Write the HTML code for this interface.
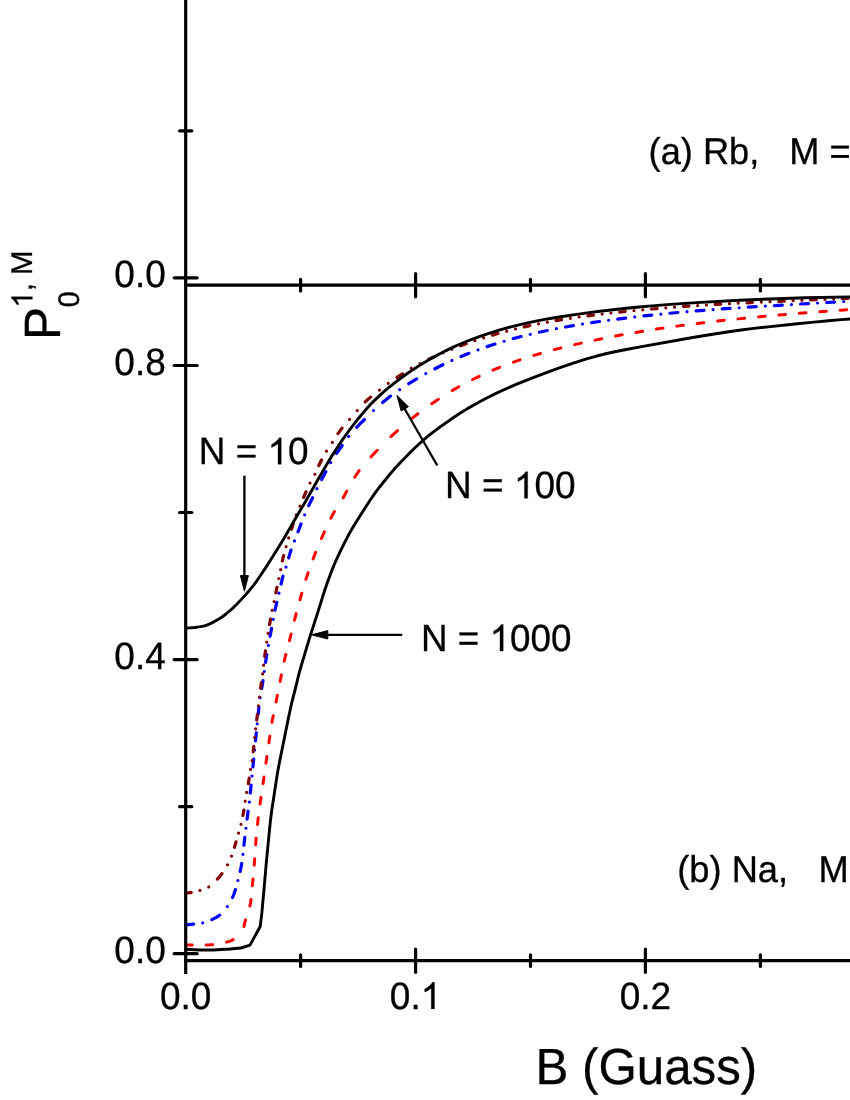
<!DOCTYPE html>
<html><head><meta charset="utf-8"><title>Chart</title>
<style>
html,body{margin:0;padding:0;background:#fff;}
body{width:850px;height:1100px;overflow:hidden;position:relative;font-family:"Liberation Sans",sans-serif;}
</style></head><body>
<svg width="850" height="1100" viewBox="0 0 850 1100" style="position:absolute;left:0;top:0;display:block;will-change:transform">
<rect width="850" height="1100" fill="#fff"/>
<g fill="none" stroke-width="3.20" stroke-linejoin="round" stroke-linecap="round">
<path d="M185.70 949.20L200.00 950.00L213.00 950.00L230.00 949.00L241.00 948.00L250.00 945.10L260.20 926.50L261.90 912.50L263.93 890.17L266.45 861.13L269.59 828.89L270.64 819.03L271.83 809.89L276.43 779.74L277.69 771.80L278.79 765.67L287.75 721.40L290.67 707.48L292.21 700.86L294.93 690.28L299.14 673.21L301.56 664.57L309.74 637.45L317.44 613.55L323.87 592.81L328.01 580.70L331.74 570.65L335.04 562.69L339.09 553.90L344.91 541.98L347.71 536.56L350.29 531.77L353.10 526.98L362.29 512.23L369.90 500.53L375.36 492.58L379.61 486.97L388.82 475.48L394.24 469.11L401.89 460.96L408.73 453.91L415.82 447.02L420.09 443.04L423.44 440.04L426.54 437.42L430.24 434.43L434.80 430.89L440.00 427.02L450.53 419.56L458.81 414.00L467.46 408.63L476.00 403.71L485.78 398.49L496.00 393.39L506.12 388.73L517.41 383.90L530.59 378.60L547.06 372.30L561.45 367.08L574.79 362.57L587.39 358.67L596.85 356.03L605.75 353.78L614.75 351.77L625.00 349.72L640.25 346.92L692.75 337.55L709.50 334.74L728.75 331.74L741.00 330.00L753.75 328.42L768.25 326.82L797.25 323.77L814.00 322.09L828.50 320.74L841.28 319.67L853.00 318.83" stroke="#000" stroke-linecap="butt" stroke-width="2.9"/>
<path d="M185.70 945.10L192.30 945.07M206.12 944.93L209.85 944.83L212.72 944.63M226.54 942.10L228.76 941.50L230.38 940.97L231.74 940.41L233.14 939.66M243.95 926.49L244.87 922.25L245.56 919.89M249.96 906.07L250.51 902.97L250.98 899.47M252.34 885.65L253.00 879.05M254.24 865.23L254.73 858.63M255.63 844.81L256.15 838.21M257.51 824.39L258.26 817.79M260.05 803.97L260.98 797.37M263.07 783.55L264.04 776.95M265.96 763.13L266.89 756.53M268.89 742.71L269.87 736.11M272.01 722.29L273.20 715.69M276.02 701.87L277.35 695.27M280.11 681.45L281.38 674.85M284.22 661.03L285.85 654.43M289.45 640.61L291.07 634.01M294.44 620.19L296.16 613.59M299.93 599.77L301.81 593.17M305.91 579.35L308.10 572.75M313.11 558.93L315.65 552.33M321.43 538.51L324.39 531.91M330.88 518.09L332.78 514.40L334.42 511.49M343.19 497.67L344.80 494.76L346.70 491.07M354.73 477.25L357.11 473.60L359.15 470.65M371.15 456.83L374.27 453.37L377.26 450.23M390.92 436.52L397.52 430.58M411.34 418.91L417.94 413.73M431.76 403.67L438.36 399.22M452.18 390.61L458.78 386.82M472.60 379.50L479.20 376.28M493.02 370.09L499.62 367.37M513.44 362.14L520.04 359.84M533.86 355.41L540.46 353.45M554.28 349.65L560.88 347.96M574.70 344.63L581.30 343.13M595.12 340.13L601.72 338.77M615.54 336.06L622.14 334.84M635.96 332.40L642.56 331.29M656.38 329.10L662.98 328.11M676.80 326.13L683.40 325.24M697.22 323.46L703.82 322.65M717.64 321.05L724.24 320.32M738.06 318.87L744.66 318.21M758.48 316.88L765.08 316.27M778.90 315.05L785.50 314.48M799.32 313.34L805.92 312.81M819.74 311.72L826.34 311.21M840.16 310.16L846.76 309.66" stroke="#ff0000" stroke-width="3"/>
<path d="M185.70 924.80L193.60 924.21M202.71 922.78h0.01M211.82 919.65L216.27 917.35L219.72 915.22M227.37 906.60h0.01M232.56 897.49L233.99 893.99L235.45 889.59M237.88 880.48h0.01M240.16 871.37L241.00 867.49L241.73 863.47M242.94 854.36h0.01M243.92 845.25L244.82 837.35M245.97 828.24h0.01M247.10 819.13L248.10 811.23M249.39 802.12h0.01M250.32 793.01L251.09 785.11M252.00 776.00h0.01M252.91 766.89L253.70 758.99M254.61 749.88h0.01M255.52 740.77L256.31 732.87M257.22 723.76h0.01M258.12 714.65L258.95 706.75M260.05 697.64h0.01M261.73 688.53L263.00 680.63M264.25 671.52h0.01M265.54 662.41L266.79 654.51M268.35 645.40h0.01M270.03 636.29L271.55 628.39M273.22 619.28h0.01M274.96 610.17L276.77 602.27M278.96 593.16h0.01M281.03 584.05L282.96 576.15M285.99 567.04h0.01M288.70 557.93L289.97 553.35L290.99 550.03M294.45 540.92h0.01M297.99 531.81L301.04 523.91M304.66 514.80h0.01M308.74 505.69L312.48 497.79M316.91 488.68h0.01M321.70 479.57L325.81 471.67M330.68 462.56h0.01M336.69 453.45L342.14 445.55M348.66 436.44h0.01M356.69 427.33L359.49 424.44L364.50 419.50M373.53 410.50h0.01M382.64 402.46L390.54 396.12M399.65 389.68h0.01M408.76 383.71L416.66 378.85M425.77 373.60h0.01M434.88 368.71L442.78 364.74M451.89 360.47h0.01M461.00 356.50L468.90 353.29M478.01 349.84h0.01M487.12 346.63L495.02 344.03M504.13 341.23h0.01M513.24 338.64L521.14 336.54M530.25 334.28h0.01M539.36 332.19L547.26 330.50M556.37 328.68h0.01M565.48 326.98L573.38 325.60M582.49 324.10h0.01M591.60 322.70L599.50 321.54M608.61 320.26h0.01M617.72 319.06L625.62 318.06M634.73 316.97h0.01M643.84 315.93L651.74 315.08M660.85 314.14h0.01M669.96 313.25L677.86 312.51M686.97 311.70h0.01M696.08 310.94L703.98 310.30M713.09 309.60h0.01M722.20 308.93L730.10 308.37M739.21 307.74h0.01M748.32 307.15L756.22 306.64M765.33 306.08h0.01M774.44 305.53L782.34 305.06M791.45 304.53h0.01M800.56 304.00L808.46 303.55M817.57 303.02h0.01M826.68 302.49L834.58 302.03M843.69 301.49h0.01M852.80 300.93L853.00 300.92" stroke="#0000ff"/>
<path d="M185.70 893.00L191.20 892.57M199.97 890.44h0.01M208.75 886.90h0.01M217.45 879.14L219.73 876.57L221.94 873.64M227.51 864.86h0.01M231.55 856.09h0.01M234.47 847.32L236.05 841.82M238.56 833.04h0.01M241.03 824.27h0.01M242.93 815.50L243.94 810.00M245.23 801.22h0.01M246.70 792.45h0.01M248.31 783.68L249.19 778.18M250.50 769.40h0.01M252.14 760.63h0.01M253.20 751.86L253.78 746.36M254.64 737.58h0.01M255.62 728.81h0.01M256.75 720.04L257.42 714.54M258.46 705.76h0.01M259.53 696.99h0.01M260.64 688.22L261.37 682.72M262.61 673.94h0.01M263.64 665.17h0.01M264.69 656.40L265.43 650.90M266.73 642.12h0.01M268.10 633.35h0.01M269.59 624.58L270.56 619.08M272.14 610.30h0.01M274.10 601.53h0.01M275.84 592.76L276.97 587.26M278.83 578.48h0.01M280.66 569.71h0.01M282.36 560.94L283.64 555.44M286.09 546.66h0.01M288.64 537.89h0.01M291.64 529.12L293.27 523.62M296.23 514.84h0.01M299.99 506.07h0.01M303.66 497.30L305.97 491.80M310.02 483.02h0.01M314.87 474.25h0.01M318.83 465.48L321.55 459.98M326.49 451.20h0.01M332.37 442.43h0.01M337.94 433.66L342.08 428.16M349.54 419.38h0.01M357.21 410.61h0.01M365.16 401.87L367.43 399.83L370.66 397.11M379.44 390.04h0.01M388.21 383.35h0.01M396.98 377.47L402.48 373.97M411.26 368.16h0.01M420.03 363.61h0.01M428.80 359.31L434.30 356.75M443.08 352.85h0.01M451.85 349.20h0.01M460.62 345.77L466.12 343.74M474.90 340.67h0.01M483.67 337.79h0.01M492.44 335.12L497.94 333.53M506.72 331.15h0.01M515.49 328.93h0.01M524.26 326.88L529.76 325.66M538.54 323.85h0.01M547.31 322.16h0.01M556.08 320.60L561.58 319.67M570.36 318.29h0.01M579.13 317.01h0.01M587.90 315.81L593.40 315.10M602.18 314.03h0.01M610.95 313.01h0.01M619.72 312.06L625.22 311.49M634.00 310.61h0.01M642.77 309.78h0.01M651.54 309.00L657.04 308.54M665.82 307.82h0.01M674.59 307.15h0.01M683.36 306.51L688.86 306.13M697.64 305.55h0.01M706.41 305.00h0.01M715.18 304.47L720.68 304.16M729.46 303.68h0.01M738.23 303.22h0.01M747.00 302.78L752.50 302.51M761.28 302.10h0.01M770.05 301.70h0.01M778.82 301.32L784.32 301.08M793.10 300.71h0.01M801.87 300.34h0.01M810.64 299.97L816.14 299.75M824.92 299.38h0.01M833.69 299.02h0.01M842.46 298.65L847.96 298.41" stroke="#800000"/>
<path d="M185.70 628.00L191.23 627.71L194.69 627.45L199.02 626.91L202.01 626.42L204.50 625.85L206.68 625.17L209.18 624.18L211.91 622.90L215.77 620.83L219.33 618.70L222.67 616.48L226.00 614.00L229.05 611.47L232.49 608.37L236.54 604.46L240.05 600.86L243.45 597.13L248.87 591.01L251.47 587.92L253.66 585.15L256.08 581.86L258.79 577.96L267.70 564.58L276.11 551.32L284.38 537.66L294.00 521.00L304.91 502.42L317.27 480.74L323.85 469.36L328.08 462.17L331.62 456.38L338.65 445.43L345.80 434.99L352.19 426.30L359.22 417.45L363.67 412.12L367.50 407.73L370.89 404.06L374.29 400.62L379.29 395.86L383.86 391.72L389.66 386.76L393.93 383.33L400.67 378.26L406.63 373.97L412.95 369.66L419.19 365.62L425.68 361.64L432.22 357.86L438.91 354.22L445.54 350.82L452.63 347.43L459.65 344.29L466.94 341.26L474.47 338.35L482.12 335.63L492.79 332.09L500.79 329.65L508.79 327.42L517.03 325.31L525.50 323.33L534.50 321.42L543.50 319.68L553.00 318.01L564.00 316.24L575.00 314.61L587.25 312.93L600.00 311.29L613.00 309.75L626.25 308.29L639.25 306.97L652.00 305.84L667.00 304.65L681.50 303.61L696.50 302.65L739.75 300.31L758.00 299.48L776.75 298.73L805.50 297.80L853.00 296.84" stroke="#000" stroke-linecap="butt" stroke-width="2.9"/>
</g>
<g stroke="#000" stroke-width="3.20" stroke-linecap="round" fill="none">
<path d="M185.7 -5V974.0" stroke-linecap="butt"/>
<path d="M185.7 960.7H855"/>
<path d="M185.7 285.2H855"/>
<path d="M174.2 953.7H197.2"/>
<path d="M179.6 806.7H191.8"/>
<path d="M174.2 659.6H197.2"/>
<path d="M179.6 512.5H191.8"/>
<path d="M174.2 365.5H197.2"/>
<path d="M174.2 277.8H197.2"/>
<path d="M179.6 130.8H191.8"/>
<path d="M300.6 954.9V966.5"/>
<path d="M300.6 279.4V291.0"/>
<path d="M415.6 949.1V972.3"/>
<path d="M415.6 273.6V296.8"/>
<path d="M530.5 954.9V966.5"/>
<path d="M530.5 279.4V291.0"/>
<path d="M645.4 949.1V972.3"/>
<path d="M645.4 273.6V296.8"/>
<path d="M760.4 954.9V966.5"/>
<path d="M760.4 279.4V291.0"/>
</g>
<g stroke="#000" stroke-width="2.3" fill="#000" stroke-linejoin="round">
<path d="M244.4 475.6V578" fill="none"/><path d="M244.4 591.2L240.4 575.6L248.4 575.6Z" stroke-width="1"/>
<path d="M402.2 634.8H326" fill="none"/><path d="M311.6 634.8L327.8 630.6L327.8 639Z" stroke-width="1"/>
<path d="M437.3 465.5L403 406" fill="none"/><path d="M396.9 395.3L408.4 406.8L401.2 411Z" stroke-width="1"/>
</g>
<g font-family="Liberation Sans, sans-serif" fill="#000" stroke="#000" stroke-width="0.3" style="text-rendering:geometricPrecision">
<g transform="translate(165.80 287.40)"><g transform="scale(1 1.030)" font-size="37.00"><text x="-51.44" y="0" xml:space="preserve">0.0</text></g></g>
<g transform="translate(165.80 375.00)"><g transform="scale(1 1.030)" font-size="37.00"><text x="-51.44" y="0" xml:space="preserve">0.8</text></g></g>
<g transform="translate(165.80 669.20)"><g transform="scale(1 1.030)" font-size="37.00"><text x="-51.44" y="0" xml:space="preserve">0.4</text></g></g>
<g transform="translate(165.80 963.30)"><g transform="scale(1 1.030)" font-size="37.00"><text x="-51.44" y="0" xml:space="preserve">0.0</text></g></g>
<g transform="translate(185.70 1008.90)"><g transform="scale(1 1.030)" font-size="37.00"><text x="-25.72" y="0" xml:space="preserve">0.0</text></g></g>
<g transform="translate(415.56 1008.90)"><path transform="translate(5.14 0) scale(0.01807 -0.01807)" d="M763 0H583V1147Q518 1085 412.5 1023Q307 961 223 930V1104Q374 1175 487 1276Q600 1377 647 1472H763Z" stroke-width="16.6"/><g transform="scale(1 1.030)" font-size="37.00"><text x="-25.72" y="0" xml:space="preserve">0.</text></g></g>
<g transform="translate(645.40 1008.90)"><g transform="scale(1 1.030)" font-size="37.00"><text x="-25.72" y="0" xml:space="preserve">0.2</text></g></g>
<g transform="translate(535.40 1084.30)"><g transform="scale(1 1.030)" font-size="49.30"><text x="0.00" y="0" xml:space="preserve">B (Guass)</text></g></g>
<g transform="translate(648.60 164.20)"><g transform="scale(1 1.030)" font-size="36.20"><text x="0.00" y="0" xml:space="preserve">(a) Rb,   M = 0</text></g></g>
<g transform="translate(677.20 881.90)"><g transform="scale(1 1.030)" font-size="36.30"><text x="0.00" y="0" xml:space="preserve">(b) Na,   M = 0</text></g></g>
<g transform="translate(198.80 464.30)"><path transform="translate(68.70 0) scale(0.01802 -0.01802)" d="M763 0H583V1147Q518 1085 412.5 1023Q307 961 223 930V1104Q374 1175 487 1276Q600 1377 647 1472H763Z" stroke-width="16.7"/><g transform="scale(1 1.030)" font-size="36.90"><text x="0.00" y="0" xml:space="preserve">N =</text><text x="89.22" y="0" xml:space="preserve">0</text></g></g>
<g transform="translate(445.00 498.30)"><path transform="translate(68.89 0) scale(0.01807 -0.01807)" d="M763 0H583V1147Q518 1085 412.5 1023Q307 961 223 930V1104Q374 1175 487 1276Q600 1377 647 1472H763Z" stroke-width="16.6"/><g transform="scale(1 1.030)" font-size="37.00"><text x="0.00" y="0" xml:space="preserve">N =</text><text x="89.46" y="0" xml:space="preserve">00</text></g></g>
<g transform="translate(421.00 651.00)"><path transform="translate(68.51 0) scale(0.01797 -0.01797)" d="M763 0H583V1147Q518 1085 412.5 1023Q307 961 223 930V1104Q374 1175 487 1276Q600 1377 647 1472H763Z" stroke-width="16.7"/><g transform="scale(1 1.030)" font-size="36.80"><text x="0.00" y="0" xml:space="preserve">N =</text><text x="88.98" y="0" xml:space="preserve">000</text></g></g>
<g transform="translate(59.50 339.90) rotate(-90)"><g transform="scale(1 1.030)" font-size="49.50"><text x="0.00" y="0" xml:space="preserve">P</text></g></g>
<g transform="translate(32.40 307.60) rotate(-90)"><path transform="translate(0.00 0) scale(0.01431 -0.01431)" d="M763 0H583V1147Q518 1085 412.5 1023Q307 961 223 930V1104Q374 1175 487 1276Q600 1377 647 1472H763Z" stroke-width="21.0"/><g transform="scale(1 1.020)" font-size="29.30"><text x="16.30" y="0" xml:space="preserve">, M</text></g></g>
<g transform="translate(78.90 307.60) rotate(-90)"><g transform="scale(1 1.020)" font-size="29.30"><text x="0.00" y="0" xml:space="preserve">0</text></g></g>
</g>
</svg>
</body></html>
